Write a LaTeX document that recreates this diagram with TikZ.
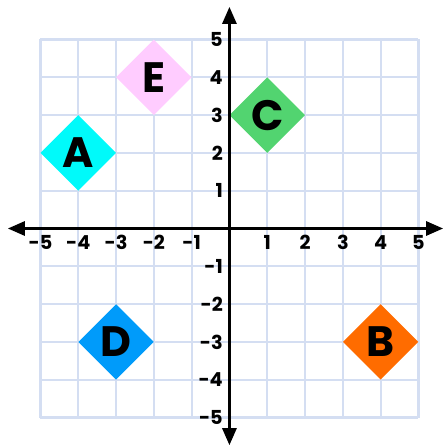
\documentclass[tikz,border=0pt]{standalone}
\usepackage{fontspec}
\setmainfont{Poppins}
\usepackage{tikz}
\usetikzlibrary{shapes.geometric,arrows.meta}
\definecolor{gridblue}{RGB}{212,222,242}
\definecolor{ptcyan}{RGB}{0,250,250}
\definecolor{ptorange}{RGB}{255,108,0}
\definecolor{ptgreen}{RGB}{82,212,112}
\definecolor{ptblue}{RGB}{0,155,250}
\definecolor{ptpink}{RGB}{255,204,255}

\begin{document}
\begin{tikzpicture}[
  every node/.style={font=\bfseries},
  gridline/.style={draw=gridblue,line width=1.6pt},
  axis/.style={{Triangle[length=4.5mm,width=3.8mm]}-{Triangle[length=4.5mm,width=3.8mm]},line width=1.6pt,draw=black},
  ticklbl/.style={font=\fontsize{14.5}{16}\selectfont\bfseries,inner sep=0pt},
  point/.style={diamond,aspect=1,minimum size=2cm,inner sep=0pt,font=\fontsize{32}{34}\selectfont\bfseries}
]
\useasboundingbox (-6.07,-5.754) rectangle (5.70,6.045);
% grid
\foreach \k in {-5,...,5} {
  \draw[gridline] (\k,-5) -- (\k,5);
  \draw[gridline] (-5,\k) -- (5,\k);
}
% points
\node[point,fill=ptcyan] (ptA) at (-4,2) {A};
\node[point,fill=ptorange] (ptB) at (4,-3) {B};
\node[point,fill=ptgreen] (ptC) at (1,3) {C};
\node[point,fill=ptblue] (ptD) at (-3,-3) {D};
\node[point,fill=ptpink] (ptE) at (-2,4) {E};
% axes
\coordinate (xleft) at (-5.86,0);
\coordinate (xright) at (5.65,0);
\coordinate (ytop) at (0,5.86);
\coordinate (ybottom) at (0,-5.73);
\draw[axis] (xleft) -- (xright);
\draw[axis] (ybottom) -- (ytop);
% tick labels
\foreach \k in {-5,...,-1,1,2,...,5} {
  \node[ticklbl] (xlbl\k) at (\k,-0.37) {\k};
  \node[ticklbl,anchor=east] (ylbl\k) at (-0.17,\k) {\k};
}
\end{tikzpicture}
\end{document}
